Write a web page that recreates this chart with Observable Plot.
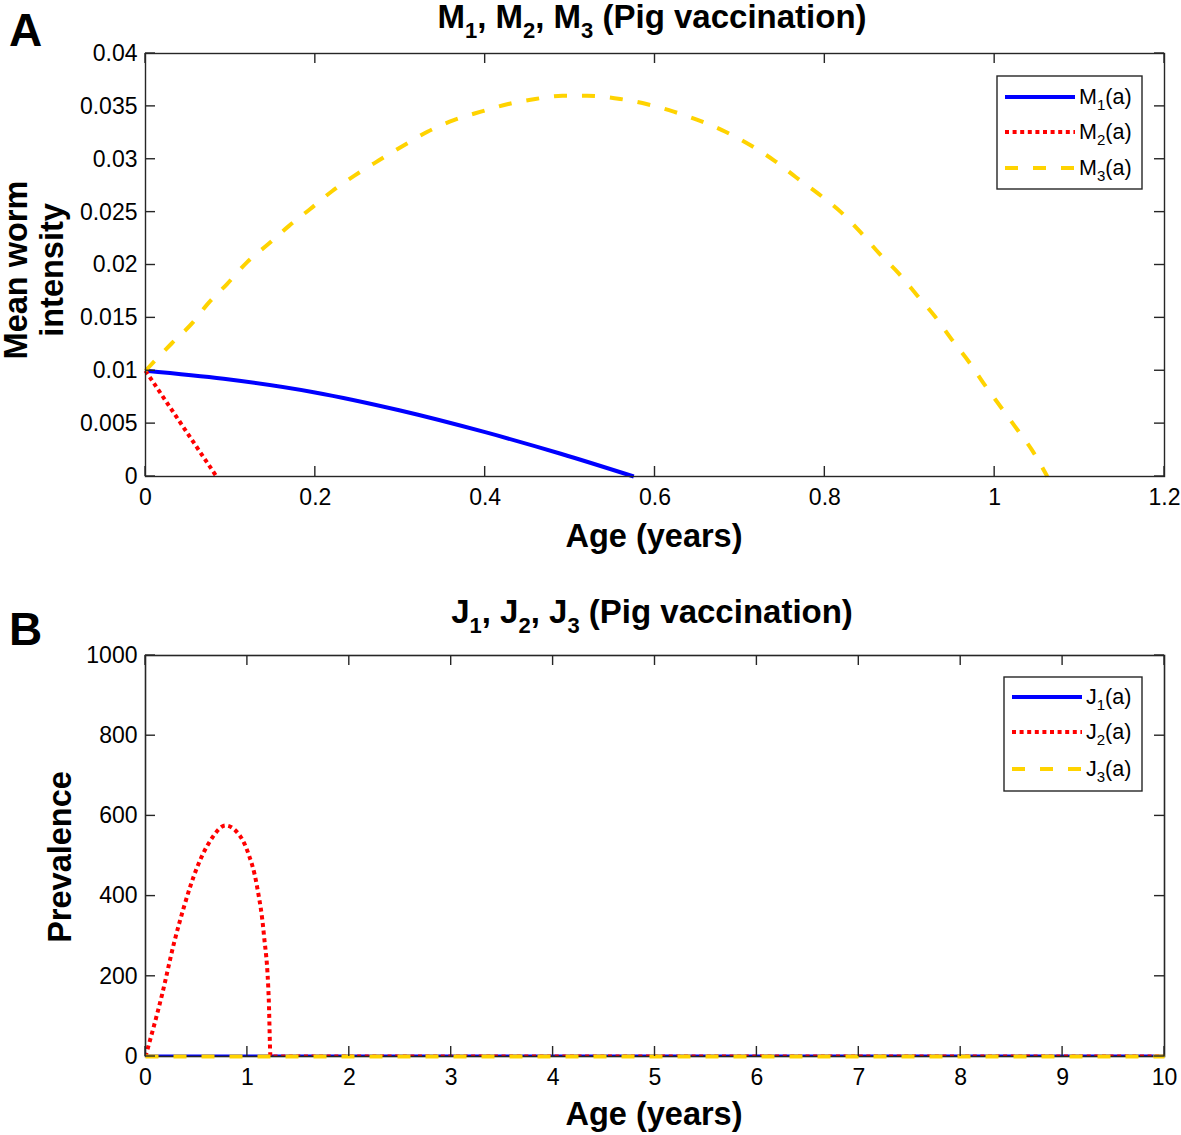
<!DOCTYPE html>
<html>
<head>
<meta charset="utf-8">
<script src="https://cdn.jsdelivr.net/npm/d3@7"></script>
<script src="https://cdn.jsdelivr.net/npm/@observablehq/plot@0.6"></script>
<style>
  html, body { margin: 0; padding: 0; background: #fff; }
  #wrap { position: relative; width: 1181px; height: 1135px; background: #fff; }
  #wrap svg { position: absolute; left: 0; }
</style>
</head>
<body>
<div id="wrap"></div>
<script>
// ---------- Data ----------
// Panel A: mean worm intensity vs age (years)
const ageM1 = [0, 0.092, 0.198, 0.3, 0.4, 0.489, 0.575];
const valM1 = [0.01, 0.00924, 0.00797, 0.00624, 0.00419, 0.00215, 0];

const ageM2 = [0, 0.0836];
const valM2 = [0.01, 0];

const ageM3 = [0, 0.031, 0.055, 0.073, 0.096, 0.12, 0.145, 0.169, 0.194, 0.22, 0.247, 0.275, 0.304, 0.332, 0.363, 0.395, 0.426, 0.459, 0.491, 0.52, 0.559, 0.591, 0.622, 0.654, 0.683, 0.713, 0.74, 0.766, 0.793, 0.819, 0.842, 0.864, 0.887, 0.909, 0.93, 0.95, 0.97, 0.987, 1.007, 1.027, 1.044, 1.062];
const valM3 = [0.01, 0.0126, 0.0145, 0.0163, 0.0182, 0.0203, 0.022, 0.0237, 0.0253, 0.027, 0.0285, 0.0299, 0.0313, 0.0326, 0.0337, 0.0345, 0.0352, 0.0357, 0.0360, 0.0360, 0.0357, 0.0352, 0.0345, 0.0336, 0.0326, 0.0313, 0.0299, 0.0283, 0.0267, 0.025, 0.0231, 0.0211, 0.0192, 0.0171, 0.0151, 0.0129, 0.0108, 0.0088, 0.0066, 0.0044, 0.0025, 0];

// Panel B: prevalence vs age (years)
const ageJ1 = [0, 10];
const valJ1 = [0, 0];
const ageJ2 = [0, 0.164, 0.278, 0.376, 0.507, 0.638, 0.785, 0.9, 0.998, 1.096, 1.161, 1.21, 1.227, 10];
const valJ2 = [0, 156, 281, 372, 472, 539, 576, 559, 514, 422, 306, 140, 0, 0];
const ageJ3 = [0, 10];
const valJ3 = [0, 0];

// Ticks
const xTicksA = [0, 0.2, 0.4, 0.6, 0.8, 1, 1.2];
const yTicksA = [0, 0.005, 0.01, 0.015, 0.02, 0.025, 0.03, 0.035, 0.04];
const xTicksB = [0, 1, 2, 3, 4, 5, 6, 7, 8, 9, 10];
const yTicksB = [0, 200, 400, 600, 800, 1000];

// ---------- Styles ----------
const FONT = "'Liberation Sans', Arial, Helvetica, sans-serif";
const BLUE = "#0000ff", RED = "#ff0000", YELLOW = "#ffd300";
const AX = "#262626";
const TICKFS = 23, LABELFS = 32.5, TITLEFS = 33, TITLESUB = 22;
const fmt = d => String(+(+d).toFixed(6));

const toRows = (ages, vals) => ages.map((a, i) => ({age: a, v: vals[i]}));

const lineStyles = {
  solid: {stroke: BLUE, strokeWidth: 4, strokeLinecap: "butt"},
  dotted: {stroke: RED, strokeWidth: 4, strokeDasharray: "4,3.6", strokeLinecap: "butt"},
  dashed: {stroke: YELLOW, strokeWidth: 4, strokeDasharray: "13,15", strokeLinecap: "butt"}
};

function makePanel({width, height, margins, xDomain, yDomain, xTicks, yTicks, series, frameBeforeLast}) {
  const marks = [
    Plot.axisX(xTicks, {tickSize: 0, tickPadding: 12, tickFormat: fmt, label: null, fontSize: TICKFS}),
    Plot.axisY(yTicks, {tickSize: 0, tickPadding: 8, tickFormat: fmt, label: null, fontSize: TICKFS})
  ];
  series.forEach((s, i) => {
    if (frameBeforeLast && i === series.length - 1) marks.push(Plot.frame({stroke: AX, strokeWidth: 1.6}));
    marks.push(Plot.line(s.rows, {x: "age", y: "v", curve: s.curve || "monotone-x", clip: s.clip || false, ...lineStyles[s.style]}));
  });
  if (!frameBeforeLast) marks.push(Plot.frame({stroke: AX, strokeWidth: 1.4}));
  return Plot.plot({
    width, height,
    ...margins,
    x: {domain: xDomain, label: null},
    y: {domain: yDomain, label: null},
    style: {fontFamily: FONT, fontSize: TICKFS + "px", color: "#000", background: "transparent", overflow: "visible"},
    marks
  });
}

function addInwardTicks(chart, xTicks, yTicks, m, W, H, len) {
  const sx = chart.scale("x"), sy = chart.scale("y");
  const g = d3.select(chart).append("g").attr("stroke", AX).attr("stroke-width", 1.4);
  const L = m.marginLeft, R = W - m.marginRight, T = m.marginTop, B = H - m.marginBottom;
  xTicks.forEach(t => {
    const x = sx.apply(t);
    g.append("line").attr("x1", x).attr("x2", x).attr("y1", B).attr("y2", B - len);
    g.append("line").attr("x1", x).attr("x2", x).attr("y1", T).attr("y2", T + len);
  });
  yTicks.forEach(t => {
    const y = sy.apply(t);
    g.append("line").attr("x1", L).attr("x2", L + len).attr("y1", y).attr("y2", y);
    g.append("line").attr("x1", R).attr("x2", R - len).attr("y1", y).attr("y2", y);
  });
}

// text with subscripts: parts = [[text, isSub], ...]
function subText(sel, x, y, parts, size, subSize, weight, anchor) {
  const t = sel.append("text").attr("x", x).attr("y", y)
    .attr("font-family", FONT).attr("font-size", size).attr("font-weight", weight)
    .attr("text-anchor", anchor || "start").attr("fill", "#000");
  let shifted = false;
  parts.forEach(([s, sub]) => {
    const ts = t.append("tspan").text(s);
    if (sub && !shifted) { ts.attr("dy", size * 0.3).attr("font-size", subSize); shifted = true; }
    else if (!sub && shifted) { ts.attr("dy", -size * 0.3); shifted = false; }
    else if (sub) ts.attr("font-size", subSize);
  });
  return t;
}

function addLegend(chart, box, rows, lineX1, lineX2, textX, letter) {
  const svg = d3.select(chart);
  svg.append("rect").attr("x", box.x).attr("y", box.y).attr("width", box.w).attr("height", box.h)
    .attr("fill", "#fff").attr("stroke", AX).attr("stroke-width", 1.4);
  const styles = ["solid", "dotted", "dashed"];
  rows.forEach((ry, i) => {
    const st = lineStyles[styles[i]];
    svg.append("line").attr("x1", lineX1).attr("x2", lineX2).attr("y1", ry).attr("y2", ry)
      .attr("stroke", st.stroke).attr("stroke-width", st.strokeWidth)
      .attr("stroke-dasharray", st.strokeDasharray || null);
    subText(svg, textX, ry + 7, [[letter, false], [String(i + 1), true], ["(a)", false]], 21.5, 15, "normal");
  });
}

const wrap = document.getElementById("wrap");

function bigLetter(s, y, ch) {
  s.append("text").attr("x", 9).attr("y", y).attr("text-anchor", "start").attr("font-family", FONT)
    .attr("font-size", 46).attr("font-weight", "bold").text(ch);
}

// ---------- Panel A ----------
const WA = 1181, HA = 560;
const mA = {marginLeft: 145, marginRight: 17, marginTop: 53, marginBottom: 84};
const chartA = makePanel({
  width: WA, height: HA, margins: mA,
  xDomain: [0, 1.2], yDomain: [0, 0.04], xTicks: xTicksA, yTicks: yTicksA,
  series: [
    {rows: toRows(ageM1, valM1), style: "solid"},
    {rows: toRows(ageM2, valM2), style: "dotted", curve: "linear"},
    {rows: toRows(ageM3, valM3), style: "dashed"}
  ]
});
chartA.style.top = "0px";
addInwardTicks(chartA, xTicksA, yTicksA, mA, WA, HA, 10);
{
  const s = d3.select(chartA);
  bigLetter(s, 46, "A");
  subText(s, 652, 28, [["M", false], ["1", true], [", M", false], ["2", true], [", M", false], ["3", true], [" (Pig vaccination)", false]], TITLEFS, TITLESUB, "bold", "middle");
  s.append("text").attr("x", 654).attr("y", 547).attr("text-anchor", "middle").attr("font-family", FONT)
    .attr("font-size", LABELFS).attr("font-weight", "bold").text("Age (years)");
  const yl = s.append("text").attr("transform", "translate(27,270) rotate(-90)").attr("text-anchor", "middle")
    .attr("font-family", FONT).attr("font-size", LABELFS).attr("font-weight", "bold");
  yl.append("tspan").attr("x", 0).attr("dy", 0).text("Mean worm");
  yl.append("tspan").attr("x", 0).attr("dy", 35.5).text("intensity");
  addLegend(chartA, {x: 997, y: 76, w: 145, h: 113}, [97, 132, 168], 1005, 1075, 1079, "M");
}
wrap.appendChild(chartA);

// ---------- Panel B ----------
const WB = 1181, HB = 575;
const mB = {marginLeft: 145, marginRight: 17, marginTop: 95, marginBottom: 79};
const chartB = makePanel({
  width: WB, height: HB, margins: mB,
  xDomain: [0, 10], yDomain: [0, 1000], xTicks: xTicksB, yTicks: yTicksB,
  series: [
    {rows: toRows(ageJ1, valJ1), style: "solid", curve: "linear", clip: "frame"},
    {rows: toRows(ageJ2, valJ2), style: "dotted", clip: "frame"},
    {rows: toRows(ageJ3, valJ3), style: "dashed", curve: "linear"}
  ],
  frameBeforeLast: true
});
chartB.style.top = "560px";
addInwardTicks(chartB, xTicksB, yTicksB, mB, WB, HB, 10);
{
  const s = d3.select(chartB);
  bigLetter(s, 85, "B");
  subText(s, 652, 63, [["J", false], ["1", true], [", J", false], ["2", true], [", J", false], ["3", true], [" (Pig vaccination)", false]], TITLEFS, TITLESUB, "bold", "middle");
  s.append("text").attr("x", 654).attr("y", 565).attr("text-anchor", "middle").attr("font-family", FONT)
    .attr("font-size", LABELFS).attr("font-weight", "bold").text("Age (years)");
  s.append("text").attr("transform", "translate(71,297) rotate(-90)").attr("text-anchor", "middle")
    .attr("font-family", FONT).attr("font-size", LABELFS).attr("font-weight", "bold").text("Prevalence");
  addLegend(chartB, {x: 1004, y: 117, w: 138, h: 114}, [137, 172, 209], 1012, 1082, 1086, "J");
}
wrap.appendChild(chartB);
</script>
</body>
</html>
